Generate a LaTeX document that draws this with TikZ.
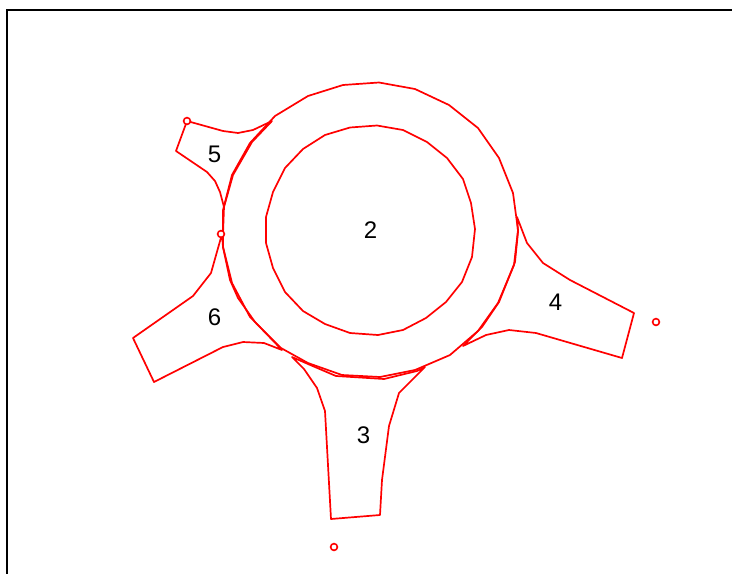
\documentclass[tikz,border=0pt]{standalone}
\usepackage{fontspec}
\setmainfont{Liberation Sans}
\tikzset{
  outl/.style={draw=red,line width=1.7pt,line join=round,line cap=round},
  pin/.style={draw=red,line width=1.6pt,fill=white},
  lab/.style={font=\fontsize{24}{26}\selectfont,text=black,inner sep=0pt},
  frame/.style={draw=black,line width=1.6pt}
}
\begin{document}
\begin{tikzpicture}[x=1pt,y=-1pt]
\useasboundingbox (0,0) rectangle (732,574);
\draw[frame] (732,10) -- (7,10) -- (7,574);
% inner ring
\draw[outl] (377,125.5) -- (403,130) -- (427,142) -- (447,158) -- (463,179) -- (471,203) -- (475,229) -- (472,257) -- (462,282) -- (446,302) -- (426,318) -- (403,330) -- (378,335) -- (350,333) -- (325,324) -- (303,311) -- (285,292) -- (273,268) -- (266,243) -- (266,217) -- (273,192) -- (285,168) -- (303,149) -- (325,135) -- (350,127.5) -- cycle;
% outer ring
\draw[outl] (379,82.5) -- (415,89) -- (449,105) -- (478,128) -- (499,158) -- (513,193) -- (518,230) -- (514,265) -- (498,303) -- (478,331) -- (450,355) -- (415,370) -- (380,377) -- (342,375) -- (308,363) -- (281,348) -- (250,317) -- (232,283) -- (223,247) -- (223,210) -- (232,175) -- (250,143) -- (275,116) -- (308,96) -- (343,85) -- cycle;
% region 3
\draw[outl] (425,367) -- (399,393) -- (389,426) -- (382,480) -- (380,515) -- (331,519) -- (325,411) -- (317,388) -- (304,369) -- (292,357) -- (308,364) -- (336,376) -- (384,379) -- (417,371) -- cycle;
% region 4
\draw[outl] (463,346) -- (486,335) -- (509,330) -- (536,333) -- (622,358) -- (634,313) -- (570,280) -- (543,263) -- (527,243) -- (517,217) -- (518,232) -- (515,262) -- (499,302) -- (482,327) -- cycle;
% region 5
\draw[outl] (187,121) -- (223,131) -- (238,133) -- (253,130) -- (272,121) -- (252,142) -- (233,175) -- (224,207) -- (223,234) -- (224,207) -- (220,192) -- (215,181) -- (207,172) -- (176,151) -- cycle;
% region 6
\draw[outl] (222,234) -- (211,273) -- (193,296) -- (133,338) -- (154,382) -- (223,347) -- (243,342) -- (264,343) -- (282,350) -- (255,322) -- (238,298) -- (230,280) -- (223,247) -- cycle;
% markers
\draw[pin] (187,121) circle (3.4);
\draw[pin] (221,234) circle (3.4);
\draw[pin] (334,547) circle (3.4);
\draw[pin] (656,322) circle (3.4);
% labels
\node[lab] (n2) at (370.5,230) {2};
\node[lab] (n3) at (363.5,435) {3};
\node[lab] (n4) at (555.5,302) {4};
\node[lab] (n5) at (214.5,154) {5};
\node[lab] (n6) at (214.5,317) {6};
\end{tikzpicture}
\end{document}
